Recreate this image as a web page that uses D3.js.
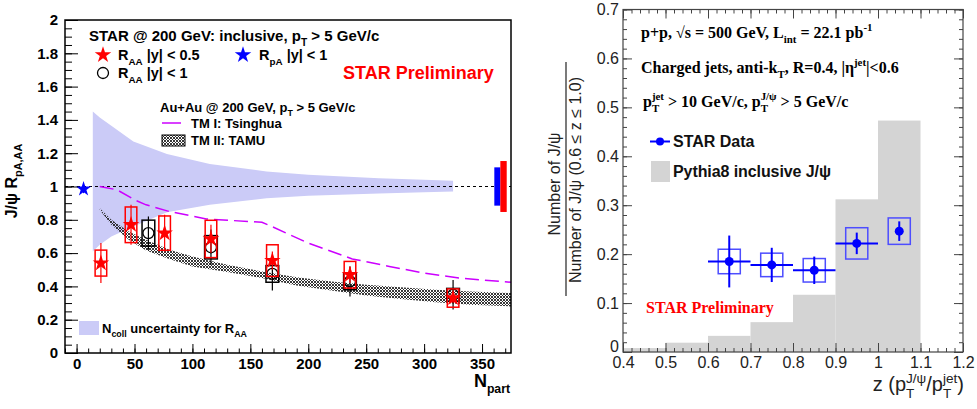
<!DOCTYPE html>
<html lang="en">
<head>
<meta charset="utf-8">
<title>J/psi RAA and z</title>
<script src="https://cdn.jsdelivr.net/npm/d3@7"></script>
<style>
  body { margin: 0; background: #fff; }
</style>
</head>
<body>
<svg id="chart" width="977" height="409"></svg>
<script>
// ---- left panel data ----
var leftXTicks = [0, 50, 100, 150, 200, 250, 300, 350];
var leftYTicks = [0, 0.2, 0.4, 0.6, 0.8, 1, 1.2, 1.4, 1.6, 1.8, 2];

var npartRed = [21, 47, 76, 116, 169, 236, 325];
var raaRed   = [0.54, 0.77, 0.72, 0.685, 0.555, 0.47, 0.33];
var statRed  = [0.12, 0.12, 0.11, 0.085, 0.055, 0.05, 0.03];
var sysRed   = [0.078, 0.107, 0.103, 0.112, 0.095, 0.08, 0.055];

var npartBlk = [62, 116, 169, 236, 325];
var raaBlk   = [0.72, 0.635, 0.475, 0.43, 0.35];
var statBlk  = [0.1, 0.107, 0.1, 0.09, 0.088];
var sysBlk   = [0.078, 0.07, 0.05, 0.05, 0.038];

var npartPA = [6];
var rpaVal  = [0.985];
var rpaStat = [0.025];

var ncollNpart = [14, 20, 30, 49, 78, 115, 164, 200, 261, 300, 325];
var ncollHi    = [1.45, 1.415, 1.365, 1.27, 1.195, 1.135, 1.09, 1.07, 1.05, 1.04, 1.035];
var ncollLo    = [0.61, 0.65, 0.70, 0.76, 0.845, 0.89, 0.93, 0.945, 0.958, 0.965, 0.97];

var tsNpart = [20, 35, 50, 60, 80, 112, 160, 170, 200, 238, 270, 300, 330, 375];
var tsVal   = [1.0, 0.98, 0.92, 0.89, 0.85, 0.805, 0.785, 0.755, 0.66, 0.565, 0.52, 0.48, 0.45, 0.425];

var tamuNpart = [20, 30, 45, 60, 80, 100, 130, 160, 190, 220, 250, 280, 310, 340, 375];
var tamuHi    = [0.87, 0.80, 0.73, 0.68, 0.62, 0.58, 0.53, 0.49, 0.455, 0.43, 0.41, 0.395, 0.38, 0.37, 0.36];
var tamuLo    = [0.86, 0.77, 0.68, 0.615, 0.565, 0.52, 0.487, 0.45, 0.405, 0.375, 0.345, 0.325, 0.305, 0.29, 0.28];

// global uncertainties (pA blue, AA red)
var globNpartLo = [360.6, 365.8];
var globNpartHi = [365.8, 371.3];
var globUnc     = [0.115, 0.153];
var globColor   = ['#0000ff', '#ff0000'];

// ---- right panel data ----
var rightXTicks = [0.4, 0.5, 0.6, 0.7, 0.8, 0.9, 1, 1.1, 1.2];
var rightYTicks = [0, 0.1, 0.2, 0.3, 0.4, 0.5, 0.6, 0.7];

var pyEdges = [0.4, 0.5, 0.6, 0.7, 0.8, 0.9, 1.0, 1.1];
var pyVal   = [0.008, 0.019, 0.033, 0.061, 0.117, 0.312, 0.473];

var zStar    = [0.65, 0.75, 0.85, 0.95, 1.05];
var valStar  = [0.185, 0.178, 0.167, 0.222, 0.247];
var statStar = [0.053, 0.035, 0.028, 0.022, 0.02];
var sysStar  = [0.025, 0.024, 0.024, 0.032, 0.027];
var xErrStar = [0.05, 0.05, 0.05, 0.05, 0];

var svg = d3.select('#chart');
var SANS = 'Liberation Sans, Arial, sans-serif';
var SERIF = 'Liberation Serif, Times New Roman, serif';

// hatch pattern for TAMU band
var defs = svg.append('defs');
var pat = defs.append('pattern').attr('id', 'hatch')
    .attr('width', 3).attr('height', 3).attr('patternUnits', 'userSpaceOnUse');
pat.append('path').attr('d', 'M0,0 L3,3 M3,0 L0,3')
    .attr('stroke', '#222').attr('stroke-width', 0.9);

// text with sub/superscripts
function rich(parent, x, y, segs, o) {
    var fs = o.size;
    var t = parent.append('text').attr('x', x).attr('y', y)
        .attr('font-family', o.family).attr('font-size', fs)
        .attr('font-weight', o.weight || 'normal')
        .attr('fill', o.fill || '#000')
        .attr('text-anchor', o.anchor || 'start');
    var cur = 0, small = fs * 0.68;
    segs.forEach(function (s) {
        if (typeof s === 'string') {
            t.append('tspan').attr('dy', -cur).text(s);
            cur = 0;
        } else if (s.b !== undefined) {
            var sh = fs * 0.33;
            var sp = t.append('tspan').attr('dy', sh - cur).attr('font-size', small).text(s.b);
            cur = sh;
            if (s.p !== undefined) {
                var w = sp.node().getComputedTextLength();
                var sh2 = -fs * 0.42;
                t.append('tspan').attr('dx', -w).attr('dy', sh2 - cur).attr('font-size', small).text(s.p);
                cur = sh2;
            }
        } else if (s.p !== undefined) {
            var sh3 = -fs * 0.42;
            t.append('tspan').attr('dy', sh3 - cur).attr('font-size', small).text(s.p);
            cur = sh3;
        }
    });
    return t;
}

function axisGroup(axis, transform, font) {
    var g = svg.append('g').attr('transform', transform).call(axis);
    g.select('.domain').remove();
    g.attr('font-family', font.family).attr('font-size', font.size)
        .attr('font-weight', font.weight || 'normal');
    g.selectAll('text').attr('fill', font.fill || '#000');
    g.selectAll('line').attr('stroke', font.stroke || '#000').attr('stroke-width', font.sw || 1);
    return g;
}

// ================= LEFT PANEL =================
var xL = d3.scaleLinear().domain([-10, 375]).range([65, 511]);
var yL = d3.scaleLinear().domain([0, 2]).range([353, 20]);

// Ncoll band
svg.append('path').datum(ncollNpart)
    .attr('d', d3.area()
        .x(function (d, i) { return xL(ncollNpart[i]); })
        .y0(function (d, i) { return yL(ncollLo[i]); })
        .y1(function (d, i) { return yL(ncollHi[i]); }))
    .attr('fill', '#cbcbf7');

// unity line
svg.append('line').attr('x1', xL(-10)).attr('x2', xL(375))
    .attr('y1', yL(1)).attr('y2', yL(1))
    .attr('stroke', '#000').attr('stroke-width', 1.2).attr('stroke-dasharray', '3,3');

// TAMU band
svg.append('path').datum(tamuNpart)
    .attr('d', d3.area()
        .x(function (d, i) { return xL(tamuNpart[i]); })
        .y0(function (d, i) { return yL(tamuLo[i]); })
        .y1(function (d, i) { return yL(tamuHi[i]); }))
    .attr('fill', 'url(#hatch)');

// Tsinghua curve
svg.append('path').datum(tsNpart)
    .attr('d', d3.line()
        .x(function (d, i) { return xL(tsNpart[i]); })
        .y(function (d, i) { return yL(tsVal[i]); }))
    .attr('fill', 'none').attr('stroke', '#cc00ff').attr('stroke-width', 1.5)
    .attr('stroke-dasharray', '14,6');

// global uncertainty boxes
globUnc.forEach(function (u, i) {
    svg.append('rect').attr('x', xL(globNpartLo[i])).attr('width', xL(globNpartHi[i]) - xL(globNpartLo[i]))
        .attr('y', yL(1 + u)).attr('height', yL(1 - u) - yL(1 + u))
        .attr('fill', globColor[i]);
});

var star = d3.symbol().type(d3.symbolStar).size(85);
var starSmall = d3.symbol().type(d3.symbolStar).size(70);

// black open circles |y|<1
npartBlk.forEach(function (n, i) {
    svg.append('rect').attr('x', xL(n - 5.5)).attr('width', xL(n + 5.5) - xL(n - 5.5))
        .attr('y', yL(raaBlk[i] + sysBlk[i])).attr('height', yL(raaBlk[i] - sysBlk[i]) - yL(raaBlk[i] + sysBlk[i]))
        .attr('fill', 'none').attr('stroke', '#000').attr('stroke-width', 1.5);
    svg.append('line').attr('x1', xL(n)).attr('x2', xL(n))
        .attr('y1', yL(raaBlk[i] + statBlk[i])).attr('y2', yL(raaBlk[i] - statBlk[i]))
        .attr('stroke', '#000').attr('stroke-width', 1.2);
    svg.append('circle').attr('cx', xL(n)).attr('cy', yL(raaBlk[i])).attr('r', 5.5)
        .attr('fill', 'none').attr('stroke', '#000').attr('stroke-width', 1.3);
});

// red stars |y|<0.5
npartRed.forEach(function (n, i) {
    svg.append('rect').attr('x', xL(n - 5)).attr('width', xL(n + 5) - xL(n - 5))
        .attr('y', yL(raaRed[i] + sysRed[i])).attr('height', yL(raaRed[i] - sysRed[i]) - yL(raaRed[i] + sysRed[i]))
        .attr('fill', 'none').attr('stroke', '#ff0000').attr('stroke-width', 1.5);
    svg.append('line').attr('x1', xL(n)).attr('x2', xL(n))
        .attr('y1', yL(raaRed[i] + statRed[i])).attr('y2', yL(raaRed[i] - statRed[i]))
        .attr('stroke', '#ff0000').attr('stroke-width', 1.2);
    svg.append('path').attr('d', star)
        .attr('transform', 'translate(' + xL(n) + ',' + yL(raaRed[i]) + ')')
        .attr('fill', '#ff0000');
});

// blue star pA
npartPA.forEach(function (n, i) {
    svg.append('line').attr('x1', xL(n)).attr('x2', xL(n))
        .attr('y1', yL(rpaVal[i] + rpaStat[i])).attr('y2', yL(rpaVal[i] - rpaStat[i]))
        .attr('stroke', '#0000ff').attr('stroke-width', 1.2);
    svg.append('path').attr('d', starSmall)
        .attr('transform', 'translate(' + xL(n) + ',' + yL(rpaVal[i]) + ')')
        .attr('fill', '#0000ff');
});

// left axes
var lfont = { family: SANS, size: 15, weight: 'bold' };
axisGroup(d3.axisLeft(yL).tickValues(d3.range(0, 41).map(function (i) { return i * 0.05; }))
    .tickSizeInner(-7).tickSizeOuter(0).tickFormat(''), 'translate(65,0)', lfont);
axisGroup(d3.axisLeft(yL).tickValues(leftYTicks).tickSizeInner(-13).tickSizeOuter(0)
    .tickPadding(7).tickFormat(d3.format('~g')), 'translate(65,0)', lfont);
axisGroup(d3.axisBottom(xL).tickValues(d3.range(-1, 38).map(function (i) { return i * 10; }))
    .tickSizeInner(-4.5).tickSizeOuter(0).tickFormat(''), 'translate(0,353)', lfont);
axisGroup(d3.axisBottom(xL).tickValues(leftXTicks).tickSizeInner(-9).tickSizeOuter(0)
    .tickPadding(5).tickFormat(d3.format('d')), 'translate(0,353)', lfont);

svg.append('rect').attr('x', 65).attr('y', 20).attr('width', 446).attr('height', 333)
    .attr('fill', 'none').attr('stroke', '#000').attr('stroke-width', 1.5);

// axis titles
var ly = svg.append('g').attr('transform', 'translate(17,181) rotate(-90)');
rich(ly, 0, 0, ['J/\u03C8 R', { b: 'pA,AA' }], { family: SANS, size: 16, weight: 'bold', anchor: 'middle' });
rich(svg, 510, 387, ['N', { b: 'part' }], { family: SANS, size: 18, weight: 'bold', anchor: 'end' });

// left legends
var lbBig = { family: SANS, size: 15, weight: 'bold' };
var lbMid = { family: SANS, size: 14.5, weight: 'bold' };
var lbSm = { family: SANS, size: 13, weight: 'bold' };
rich(svg, 89, 41, ['STAR @ 200 GeV: inclusive, p', { b: 'T' }, ' > 5 GeV/c'], lbBig);
svg.append('path').attr('d', star).attr('transform', 'translate(103,55)').attr('fill', '#ff0000');
rich(svg, 118, 60, ['R', { b: 'AA' }, ' |y| < 0.5'], lbMid);
svg.append('path').attr('d', star).attr('transform', 'translate(243,55)').attr('fill', '#0000ff');
rich(svg, 259, 60, ['R', { b: 'pA' }, ' |y| < 1'], lbMid);
svg.append('circle').attr('cx', 103).attr('cy', 73).attr('r', 5.5)
    .attr('fill', 'none').attr('stroke', '#000').attr('stroke-width', 1.3);
rich(svg, 118, 78, ['R', { b: 'AA' }, ' |y| < 1'], lbMid);
svg.append('text').attr('x', 343).attr('y', 79).attr('font-family', SANS).attr('font-size', 18)
    .attr('font-weight', 'bold').attr('fill', '#ff0000').text('STAR Preliminary');

rich(svg, 160, 112, ['Au+Au @ 200 GeV, p', { b: 'T' }, ' > 5 GeV/c'], lbSm);
svg.append('line').attr('x1', 162).attr('x2', 181).attr('y1', 123).attr('y2', 123)
    .attr('stroke', '#cc00ff').attr('stroke-width', 1.5);
rich(svg, 191, 128, ['TM I: Tsinghua'], lbSm);
svg.append('rect').attr('x', 162).attr('y', 135).attr('width', 23).attr('height', 11)
    .attr('fill', 'url(#hatch)').attr('stroke', '#000').attr('stroke-width', 1);
rich(svg, 191, 145, ['TM II: TAMU'], lbSm);

svg.append('rect').attr('x', 79).attr('y', 321).attr('width', 20).attr('height', 14).attr('fill', '#cbcbf7');
rich(svg, 102, 333, ['N', { b: 'coll' }, ' uncertainty for R', { b: 'AA' }], lbSm);

// ================= RIGHT PANEL =================
var xR = d3.scaleLinear().domain([0.4, 1.2]).range([623, 963]);
var yR = d3.scaleLinear().domain([0, 0.7]).range([352, 9.5]);

// Pythia histogram
pyVal.forEach(function (v, i) {
    svg.append('rect').attr('x', xR(pyEdges[i])).attr('width', xR(pyEdges[i + 1]) - xR(pyEdges[i]))
        .attr('y', yR(v)).attr('height', yR(0) - yR(v)).attr('fill', '#d4d4d4');
});

// STAR data
zStar.forEach(function (z, i) {
    svg.append('rect').attr('x', xR(z - 0.026)).attr('width', xR(z + 0.026) - xR(z - 0.026))
        .attr('y', yR(valStar[i] + sysStar[i])).attr('height', yR(valStar[i] - sysStar[i]) - yR(valStar[i] + sysStar[i]))
        .attr('fill', 'none').attr('stroke', '#4d4dff').attr('stroke-width', 1.5);
    svg.append('line').attr('x1', xR(z)).attr('x2', xR(z))
        .attr('y1', yR(valStar[i] + statStar[i])).attr('y2', yR(valStar[i] - statStar[i]))
        .attr('stroke', '#0000ff').attr('stroke-width', 2);
    if (xErrStar[i] > 0) {
        svg.append('line').attr('x1', xR(z - xErrStar[i])).attr('x2', xR(z + xErrStar[i]))
            .attr('y1', yR(valStar[i])).attr('y2', yR(valStar[i]))
            .attr('stroke', '#0000ff').attr('stroke-width', 2);
    }
    svg.append('circle').attr('cx', xR(z)).attr('cy', yR(valStar[i])).attr('r', 4.5).attr('fill', '#0000ff');
});

// right axes
var rfont = { family: SANS, size: 16, fill: '#222', stroke: '#444', sw: 1 };
var minorX = d3.range(20, 61).map(function (i) { return i * 0.02; });
var minorY = d3.range(0, 36).map(function (i) { return i * 0.02; });
axisGroup(d3.axisBottom(xR).tickValues(minorX).tickSizeInner(-4).tickSizeOuter(0).tickFormat(''), 'translate(0,352)', rfont);
axisGroup(d3.axisBottom(xR).tickValues(rightXTicks).tickSizeInner(-9).tickSizeOuter(0)
    .tickPadding(5).tickFormat(d3.format('~g')), 'translate(0,352)', rfont);
axisGroup(d3.axisTop(xR).tickValues(minorX).tickSizeInner(-4).tickSizeOuter(0).tickFormat(''), 'translate(0,9.5)', rfont);
axisGroup(d3.axisTop(xR).tickValues(rightXTicks).tickSizeInner(-9).tickSizeOuter(0).tickFormat(''), 'translate(0,9.5)', rfont);
axisGroup(d3.axisLeft(yR).tickValues(minorY).tickSizeInner(-4).tickSizeOuter(0).tickFormat(''), 'translate(623,0)', rfont);
var ryAx = axisGroup(d3.axisLeft(yR).tickValues(rightYTicks).tickSizeInner(-9).tickSizeOuter(0)
    .tickPadding(4).tickFormat(d3.format('~g')), 'translate(623,0)', rfont);
// lift the "0" label so it does not sit on the 0.4 label
ryAx.selectAll('text').filter(function (d) { return d === 0; }).attr('y', -6);
axisGroup(d3.axisRight(yR).tickValues(minorY).tickSizeInner(-4).tickSizeOuter(0).tickFormat(''), 'translate(963,0)', rfont);
axisGroup(d3.axisRight(yR).tickValues(rightYTicks).tickSizeInner(-9).tickSizeOuter(0).tickFormat(''), 'translate(963,0)', rfont);

svg.append('rect').attr('x', 623).attr('y', 9.5).attr('width', 340).attr('height', 342.5)
    .attr('fill', 'none').attr('stroke', '#444').attr('stroke-width', 1.2);

// right titles
var num = svg.append('g').attr('transform', 'translate(560,184) rotate(-90)');
rich(num, 0, 0, ['Number of J/\u03C8'], { family: SANS, size: 16, fill: '#222', anchor: 'middle' });
svg.append('line').attr('x1', 566).attr('x2', 566).attr('y1', 62).attr('y2', 296)
    .attr('stroke', '#222').attr('stroke-width', 1.2);
var den = svg.append('g').attr('transform', 'translate(581,180) rotate(-90)');
rich(den, 0, 0, ['Number of J/\u03C8 (0.6 \u2264 z \u2264 1.0)'], { family: SANS, size: 16, fill: '#222', anchor: 'middle' });
rich(svg, 964, 391, ['z (p', { b: 'T', p: 'J/\u03C8' }, '/p', { b: 'T', p: 'jet' }, ')'],
    { family: SANS, size: 20, fill: '#222', anchor: 'end' });

// right text
var tb = { family: SERIF, size: 16, weight: 'bold' };
rich(svg, 641, 38, ['p+p,  \u221As = 500 GeV, L', { b: 'int' }, ' = 22.1 pb', { p: '-1' }], tb);
rich(svg, 641, 73, ['Charged jets, anti-k', { b: 'T' }, ', R=0.4, |\u03B7', { p: 'jet' }, '|<0.6'], tb);
rich(svg, 643, 107, ['p', { b: 'T', p: 'jet' }, ' > 10 GeV/c, p', { b: 'T', p: 'J/\u03C8' }, ' > 5 GeV/c'], tb);

svg.append('line').attr('x1', 650).attr('x2', 670).attr('y1', 141.5).attr('y2', 141.5)
    .attr('stroke', '#0000ff').attr('stroke-width', 2);
svg.append('circle').attr('cx', 660).attr('cy', 141.5).attr('r', 4).attr('fill', '#0000ff');
rich(svg, 673, 147, ['STAR Data'], { family: SANS, size: 16, weight: 'bold', fill: '#111' });
svg.append('rect').attr('x', 651).attr('y', 161).attr('width', 19).attr('height', 21).attr('fill', '#d4d4d4');
rich(svg, 673, 177, ['Pythia8 inclusive J/\u03C8'], { family: SANS, size: 16, weight: 'bold', fill: '#111' })
    .attr('textLength', 158).attr('lengthAdjust', 'spacing');

svg.append('text').attr('x', 646).attr('y', 313).attr('font-family', SERIF).attr('font-size', 16)
    .attr('font-weight', 'bold').attr('fill', '#ff0000').text('STAR Preliminary');
</script>
</body>
</html>
